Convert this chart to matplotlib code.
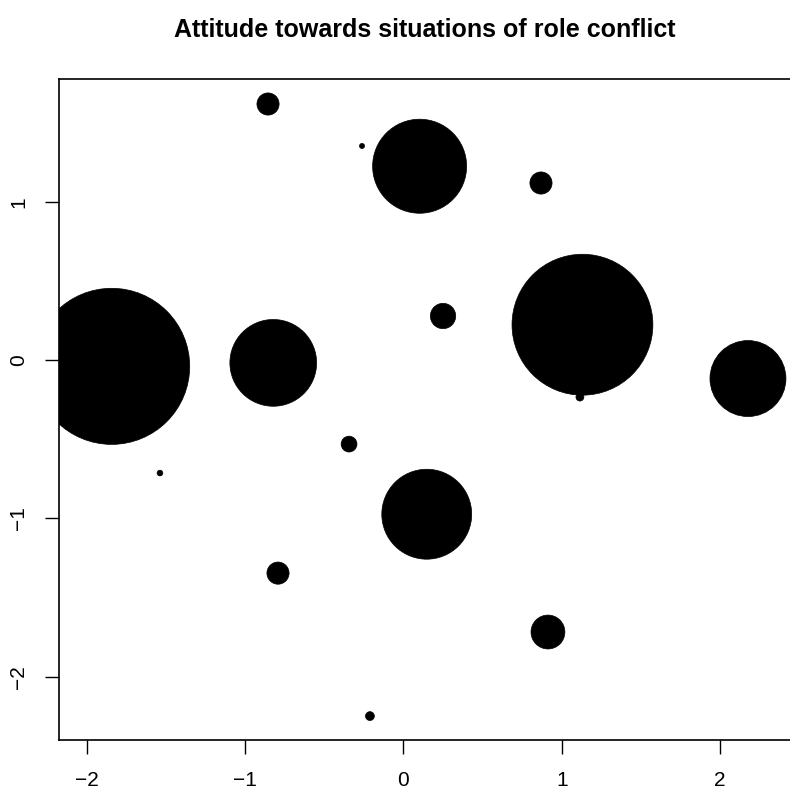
import matplotlib.pyplot as plt
from matplotlib.patches import Circle

plt.rcParams['font.family'] = ['Liberation Sans', 'DejaVu Sans']

# coordinates of each item and the radius of its circle (data units)
xs = [-1.844, 1.131, 0.102, -0.823, 0.147, 2.177,
      -0.856, 0.869, 0.250, -0.344, -0.793, 0.913,
      -0.212, -1.539, -0.262, 1.115]
ys = [-0.040, 0.223, 1.224, -0.018, -0.974, -0.117,
      1.617, 1.118, 0.278, -0.531, -1.346, -1.718,
      -2.249, -0.714, 1.352, -0.234]
radii = [0.493, 0.445, 0.297, 0.274, 0.284, 0.240,
         0.070, 0.070, 0.080, 0.050, 0.070, 0.107,
         0.028, 0.018, 0.016, 0.025]

xticks = [-2, -1, 0, 1, 2]
yticks = [-2, -1, 0, 1]

fig = plt.figure(figsize=(7.9, 7.9), dpi=100)
ax = fig.add_axes([59 / 790, 50 / 790, 732 / 790, 661 / 790])

for x, y, r in zip(xs, ys, radii):
    ax.add_patch(Circle((x, y), r, facecolor='black', edgecolor='black', linewidth=0.5))

ax.set_xlim(-2.177, 2.449)
ax.set_ylim(-2.400, 1.775)

ax.set_xticks(xticks)
ax.set_yticks(yticks)
ax.set_xticklabels([str(t).replace('-', '\u2212') for t in xticks])
ax.set_yticklabels([str(t).replace('-', '\u2212') for t in yticks], rotation=90, va='center')
ax.tick_params(axis='both', direction='out', length=10, width=1, labelsize=15)
ax.tick_params(axis='x', pad=12)
ax.tick_params(axis='y', pad=12)
for s in ax.spines.values():
    s.set_linewidth(1.2)

fig.text((59 + 791) / 2 / 790, 1 - 30 / 790, 'Attitude towards situations of role conflict',
         ha='center', va='center', fontsize=18, fontweight='bold')

fig.savefig('out.png', dpi=100)
